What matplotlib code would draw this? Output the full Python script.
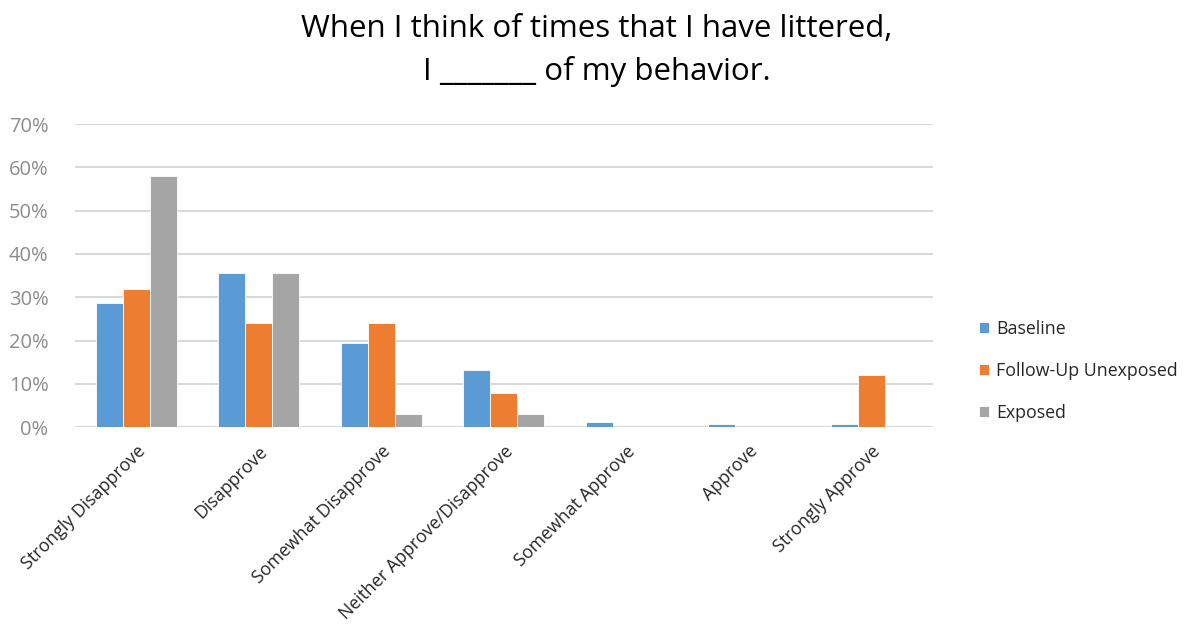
import matplotlib
matplotlib.use('Agg')
import matplotlib.pyplot as plt
from matplotlib.ticker import PercentFormatter
import numpy as np

plt.rcParams['font.family'] = ['Open Sans', 'DejaVu Sans']

# survey responses, share of respondents per answer
categories = ['Strongly Disapprove', 'Disapprove', 'Somewhat Disapprove',
              'Neither Approve/Disapprove', 'Somewhat Approve', 'Approve',
              'Strongly Approve']
baseline = [0.287, 0.355, 0.194, 0.132, 0.013, 0.007, 0.007]
follow_up = [0.32, 0.24, 0.24, 0.08, 0.0, 0.0, 0.12]
exposed = [0.58, 0.355, 0.031, 0.031, 0.0, 0.0, 0.0]

series = [('Baseline', baseline, '#5b9bd5'),
          ('Follow-Up Unexposed', follow_up, '#ed7d31'),
          ('Exposed', exposed, '#a5a5a5')]

fig = plt.figure(figsize=(11.88, 6.3), dpi=100)
ax = fig.add_axes([0.063, 0.322, 0.722, 0.481])

x = np.arange(len(categories))
w = 0.22
for i, (name, vals, col) in enumerate(series):
    ax.bar(x + (i - 1) * w, vals, w, color=col, edgecolor='white',
           linewidth=0.6, label=name, zorder=3)

ax.set_xlim(-0.5, len(categories) - 0.5)
ax.set_ylim(0, 0.7)
ax.set_yticks(np.arange(0, 0.71, 0.1))
ax.yaxis.set_major_formatter(PercentFormatter(1.0, decimals=0))
ax.grid(axis='y', color='#d9d9d9', linewidth=1.5, zorder=0)
for s in ax.spines.values():
    s.set_visible(False)
ax.tick_params(axis='y', length=0, labelsize=14.5, labelcolor='#8c8c8c', pad=19)
ax.tick_params(axis='x', length=0, pad=11)
ax.set_xticks(x)
ax.set_xticklabels(categories, rotation=45, ha='right', rotation_mode='anchor',
                   fontsize=12.8, color='#262626')
ax.axhline(0, color='#d9d9d9', linewidth=1.5, zorder=1)

fig.text(0.502, 0.954, 'When I think of times that I have littered,',
         ha='center', va='center', fontsize=22.5, color='black')
fig.text(0.502, 0.886, 'I _______ of my behavior.',
         ha='center', va='center', fontsize=22.5, color='black')

leg = ax.legend(loc='center left', bbox_to_anchor=(1.035, 0.185), frameon=False,
                fontsize=12.8, handlelength=0.6, handleheight=0.6, handletextpad=0.4,
                labelspacing=1.35, labelcolor='#262626')

fig.savefig('out.png', dpi=100)
